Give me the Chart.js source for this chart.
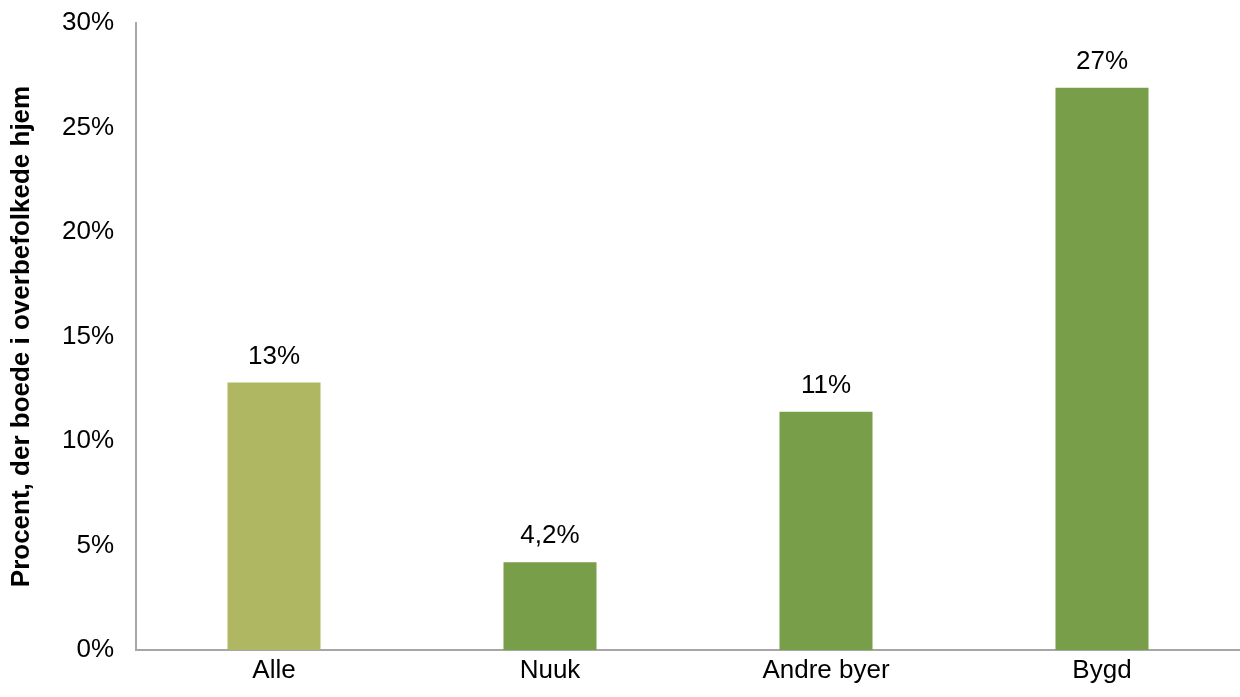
<!DOCTYPE html>
<html>
<head>
<meta charset="utf-8">
<script src="https://cdn.jsdelivr.net/npm/chart.js@4/dist/chart.umd.min.js"></script>
<style>
  html, body { margin: 0; padding: 0; background: #fff; }
  #wrap { width: 1240px; height: 697px; }
</style>
</head>
<body>
<div id="wrap"><canvas id="chart" width="1240" height="697"></canvas></div>
<script>
const categories = ["Alle", "Nuuk", "Andre byer", "Bygd"];
const values = [12.8, 4.2, 11.4, 26.9];
const valueLabels = ["13%", "4,2%", "11%", "27%"];
const barColors = ["#afb763", "#789e4a", "#789e4a", "#789e4a"];
const yTicks = [0, 5, 10, 15, 20, 25, 30];

const font = "Arial, 'Liberation Sans', sans-serif";

// draws the value label above each bar
const barLabels = {
  id: "barLabels",
  afterDatasetsDraw(chart) {
    const ctx = chart.ctx;
    const meta = chart.getDatasetMeta(0);
    ctx.save();
    ctx.font = "26px " + font;
    ctx.fillStyle = "#000";
    ctx.textAlign = "center";
    ctx.textBaseline = "middle";
    meta.data.forEach((bar, i) => {
      ctx.fillText(valueLabels[i], bar.x, bar.y - 26);
    });
    ctx.restore();
  },
};

const chart = new Chart(document.querySelector("#chart").getContext("2d"), {
  type: "bar",
  data: {
    labels: categories,
    datasets: [
      {
        data: values,
        backgroundColor: barColors,
        barPercentage: 0.337,
        categoryPercentage: 1,
      },
    ],
  },
  options: {
    responsive: false,
    animation: false,
    layout: { padding: { top: 23, right: 0, left: 0, bottom: 0 } },
    plugins: {
      legend: { display: false },
      tooltip: { enabled: false },
    },
    scales: {
      x: {
        grid: { display: false, drawTicks: false },
        border: { color: "#a6a6a6", width: 2 },
        ticks: {
          color: "#000",
          padding: 5,
          font: { family: font, size: 26 },
        },
        afterFit: (axis) => { axis.height = 47; },
      },
      y: {
        min: 0,
        max: 30,
        afterBuildTicks: (axis) => {
          axis.ticks = yTicks.map((v) => ({ value: v }));
        },
        grid: { display: false, drawTicks: false },
        border: { color: "#a6a6a6", width: 2 },
        ticks: {
          color: "#000",
          padding: 22,
          font: { family: font, size: 26 },
          callback: (v) => v + "%",
        },
        title: {
          display: true,
          text: "Procent, der boede i overbefolkede hjem",
          color: "#000",
          font: { family: font, size: 26, weight: "bold" },
          padding: { top: 6, bottom: 14 },
        },
        afterFit: (axis) => {
          axis.width = 136;
          axis.paddingTop = 0;
          axis.paddingBottom = 0;
        },
      },
    },
  },
  plugins: [barLabels],
});
</script>
</body>
</html>
